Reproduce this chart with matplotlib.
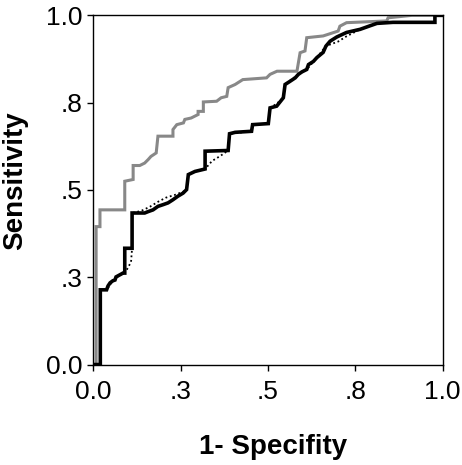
import matplotlib
matplotlib.use('Agg')
import matplotlib.pyplot as plt

plt.rcParams['font.family'] = ['Liberation Sans', 'DejaVu Sans']

# ROC curves (x = 1 - specificity, y = sensitivity)
gray_x = [0.0, 0.008, 0.008, 0.019, 0.019, 0.090, 0.090, 0.114, 0.114, 0.133, 0.147, 0.157,
          0.165, 0.180, 0.185, 0.228, 0.228, 0.239, 0.258, 0.262, 0.280, 0.300, 0.300, 0.315,
          0.315, 0.353, 0.366, 0.382, 0.386, 0.406, 0.428, 0.496, 0.506, 0.526, 0.583, 0.592,
          0.606, 0.611, 0.658, 0.701, 0.706, 0.725, 0.840, 0.844, 0.912, 1.0]
gray_y = [0.0, 0.0, 0.395, 0.395, 0.443, 0.443, 0.525, 0.530, 0.570, 0.570, 0.577, 0.587,
          0.596, 0.606, 0.654, 0.654, 0.673, 0.687, 0.692, 0.702, 0.706, 0.716, 0.725, 0.725,
          0.752, 0.754, 0.764, 0.768, 0.793, 0.802, 0.816, 0.821, 0.831, 0.840, 0.840, 0.893,
          0.898, 0.936, 0.941, 0.955, 0.969, 0.979, 0.984, 0.993, 1.0, 1.0]

black_x = [0.0, 0.020, 0.020, 0.038, 0.042, 0.048, 0.056, 0.062, 0.065, 0.076, 0.085, 0.090,
           0.090, 0.111, 0.111, 0.147, 0.157, 0.171, 0.185, 0.200, 0.214, 0.228, 0.242, 0.257,
           0.267, 0.272, 0.291, 0.320, 0.320, 0.386, 0.390, 0.406, 0.453, 0.456, 0.501, 0.506,
           0.525, 0.544, 0.549, 0.563, 0.578, 0.587, 0.597, 0.611, 0.616, 0.630, 0.640, 0.658,
           0.666, 0.678, 0.697, 0.725, 0.764, 0.792, 0.812, 0.858, 0.978, 0.978, 1.0]
black_y = [0.0, 0.0, 0.214, 0.214, 0.225, 0.234, 0.240, 0.242, 0.251, 0.257, 0.262, 0.262,
           0.333, 0.333, 0.434, 0.434, 0.438, 0.443, 0.453, 0.458, 0.463, 0.472, 0.482, 0.491,
           0.501, 0.544, 0.553, 0.560, 0.611, 0.613, 0.661, 0.665, 0.668, 0.687, 0.690, 0.735,
           0.740, 0.764, 0.802, 0.811, 0.821, 0.831, 0.838, 0.845, 0.859, 0.868, 0.879, 0.894,
           0.912, 0.926, 0.938, 0.951, 0.960, 0.970, 0.977, 0.980, 0.980, 1.0, 1.0]

dotted_x = [0.0, 0.020, 0.020, 0.038, 0.056, 0.076, 0.090, 0.099, 0.108, 0.111, 0.111, 0.137,
            0.162, 0.185, 0.208, 0.234, 0.257, 0.267, 0.272, 0.291, 0.320, 0.340, 0.363, 0.386,
            0.390, 0.453, 0.456, 0.501, 0.506, 0.525, 0.544, 0.549, 0.587, 0.611, 0.640, 0.666,
            0.701, 0.725, 0.764, 0.812, 0.858, 0.978, 0.978, 1.0]
dotted_y = [0.0, 0.0, 0.214, 0.214, 0.240, 0.257, 0.262, 0.277, 0.294, 0.334, 0.434, 0.440,
            0.452, 0.466, 0.478, 0.486, 0.495, 0.501, 0.544, 0.553, 0.560, 0.583, 0.597, 0.613,
            0.661, 0.668, 0.687, 0.690, 0.735, 0.747, 0.764, 0.802, 0.831, 0.845, 0.879, 0.912,
            0.925, 0.940, 0.960, 0.977, 0.980, 0.980, 1.0, 1.0]

tick_vals = [0.0, 0.25, 0.5, 0.75, 1.0]
tick_labels = ['0.0', '.3', '.5', '.8', '1.0']

fig = plt.figure(figsize=(4.62, 4.65), dpi=100)
ax = fig.add_axes([0.202, 0.216, 0.756, 0.751])

ax.plot(gray_x, gray_y, color='#888888', lw=2.2, solid_joinstyle='miter', zorder=2)
ax.plot(dotted_x, dotted_y, color='black', lw=1.3, ls=(0, (1, 1.5)), zorder=3)
ax.plot(black_x, black_y, color='black', lw=2.6, solid_joinstyle='miter', zorder=4)

ax.set_xlim(0, 1)
ax.set_ylim(0, 1)
ax.set_xticks(tick_vals)
ax.set_xticklabels(tick_labels)
ax.set_yticks(tick_vals)
ax.set_yticklabels(tick_labels)
ax.tick_params(direction='out', length=4, width=1, labelsize=19, pad=4)
ax.tick_params(axis='x', pad=7)

for s in ax.spines.values():
    s.set_linewidth(1.0)
    s.set_color('black')

ax.set_xlabel('1- Specifity', fontsize=20, fontweight='bold')
ax.set_ylabel('Sensitivity', fontsize=20, fontweight='bold')
ax.xaxis.set_label_coords(0.516, -0.2)
ax.yaxis.set_label_coords(-0.187, 0.527)

plt.savefig('out.png', dpi=100)
